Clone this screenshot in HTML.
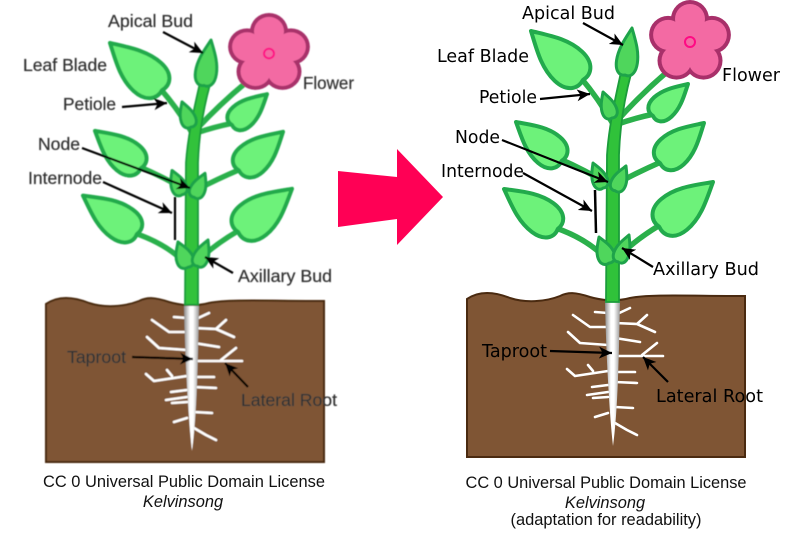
<!DOCTYPE html>
<html>
<head>
<meta charset="utf-8">
<style>
html,body{margin:0;padding:0;background:#fff;}
svg{display:block;}
</style>
</head>
<body>
<svg width="799" height="545" viewBox="0 0 799 545" xmlns="http://www.w3.org/2000/svg">
<defs>
  <marker id="ah" markerWidth="16" markerHeight="14" refX="13" refY="7" orient="auto" markerUnits="userSpaceOnUse">
    <path d="M0,1 L13,7 L0,13 L3.5,7 Z" fill="#000"/>
  </marker>
  <linearGradient id="rg" x1="0" y1="0" x2="1" y2="0">
    <stop offset="0" stop-color="#8c8c8c"/>
    <stop offset="0.4" stop-color="#ffffff"/>
    <stop offset="0.6" stop-color="#ffffff"/>
    <stop offset="1" stop-color="#9a9a9a"/>
  </linearGradient>
  <filter id="bl" x="-5%" y="-5%" width="110%" height="110%">
    <feGaussianBlur stdDeviation="0.6"/>
  </filter>
  <path id="leafShape" vector-effect="non-scaling-stroke" d="M0,0 C22,-22 45,-50 72,-50 C95,-50 104,-25 100,0 C104,25 95,50 72,50 C45,50 22,22 0,0 Z"/>

  <!-- soil -->
  <g id="soil">
    <path d="M467,299 C480,290 495,292 510,298 C525,303 545,302 560,296 C568,292 575,292 590,297 C600,300 615,302 630,298 C650,294 690,296 745,296 L745,457 L467,457 Z" fill="#7f5534" stroke="#4a2a10" stroke-width="2"/>
  </g>

  <!-- roots -->
  <g id="roots">
    <path d="M595,312 L608,313 M615,315 L630,308 M573,315 L590,327 L608,327 M615,323 L637,324 L655,332 M637,324 L647,315 M615,338 L640,342 M568,332 L580,343 L608,345 M615,356 L663,356 M642,355 L657,343 M567,369 L575,376 L608,371 M588,365 L593,371 M615,372 L635,372 M615,382 L637,383 M592,387 L608,385 M587,395 L608,392 M593,398 L608,397 M615,407 L633,408 M595,417 L608,413 M615,423 L627,430 L637,435" fill="none" stroke="#ffffff" stroke-width="2.6" stroke-linecap="round" stroke-linejoin="round"/>
    <path d="M605,301 L620,301 C619,350 618,410 613,446 C609,410 606,350 605,301 Z" fill="url(#rg)"/>
  </g>

  <!-- plant above ground -->
  <g id="plant">
    <!-- petioles -->
    <g fill="none" stroke="#2bb04b" stroke-width="5.5" stroke-linecap="round">
      <path d="M581,78 Q598,98 613,124"/>
      <path d="M667,72 Q640,95 616,122"/>
      <path d="M654,114 Q635,118 618,124"/>
      <path d="M560,159 Q585,170 608,184"/>
      <path d="M661,162 Q638,172 616,184"/>
      <path d="M556,228 Q590,240 609,262"/>
      <path d="M660,225 Q635,240 617,258"/>
    </g>
    <!-- stem -->
    <path d="M621,72 C616,95 609,125 607,155 L606,302 L619,302 L619,155 C620,125 624,100 631,74 Z" fill="#30c23a" stroke="#1b9c3b" stroke-width="1.8"/>
    <!-- leaves -->
    <g fill="#6df27a" stroke="#22aa4c" stroke-width="4" stroke-linejoin="round">
      <use href="#leafShape" transform="translate(531,31) rotate(43.3) scale(0.714,0.40)"/>
      <use href="#leafShape" transform="translate(516,122) rotate(40.3) scale(0.60,0.34)"/>
      <use href="#leafShape" transform="translate(704,123) rotate(137.7) scale(0.595,0.34)"/>
      <use href="#leafShape" transform="translate(504,189) rotate(36.5) scale(0.67,0.36)"/>
      <use href="#leafShape" transform="translate(713,182) rotate(140.2) scale(0.70,0.40)"/>
      <use href="#leafShape" transform="translate(688,84) rotate(137.6) scale(0.474,0.26)"/>
    </g>
    <!-- buds -->
    <g fill="#4fd65c" stroke="#1ea34a" stroke-width="3" stroke-linejoin="round">
      <use href="#leafShape" transform="translate(632,28) rotate(98.5) scale(0.475,0.21)"/>
      <use href="#leafShape" transform="translate(603,92) rotate(70.9) scale(0.275,0.15)"/>
      <use href="#leafShape" transform="translate(593,163) rotate(68) scale(0.27,0.15)"/>
      <use href="#leafShape" transform="translate(626,166) rotate(113.7) scale(0.27,0.15)"/>
      <use href="#leafShape" transform="translate(599,237) rotate(69) scale(0.28,0.17)"/>
      <use href="#leafShape" transform="translate(629,235) rotate(112) scale(0.29,0.15)"/>
    </g>
    <!-- flower -->
    <g fill="#a8306a">
      <circle cx="690" cy="19" r="19"/>
      <circle cx="711.9" cy="34.9" r="19"/>
      <circle cx="703.5" cy="60.6" r="19"/>
      <circle cx="676.5" cy="60.6" r="19"/>
      <circle cx="668.1" cy="34.9" r="19"/>
    </g>
    <g fill="#f36aa3">
      <circle cx="690" cy="19" r="15"/>
      <circle cx="711.9" cy="34.9" r="15"/>
      <circle cx="703.5" cy="60.6" r="15"/>
      <circle cx="676.5" cy="60.6" r="15"/>
      <circle cx="668.1" cy="34.9" r="15"/>
      <circle cx="690" cy="42" r="19"/>
    </g>
    <circle cx="690" cy="42" r="5" fill="none" stroke="#ff0a84" stroke-width="2"/>
  </g>
</defs>

<!-- ===== LEFT (original, blurry) ===== -->
<g filter="url(#bl)">
  <use href="#soil" transform="translate(-421,5)"/>
  <use href="#roots" transform="translate(-421,5)"/>
  <use href="#plant" transform="translate(-421,13) scale(1,0.966)"/>
  <g stroke="#000" stroke-width="2.2" fill="none" marker-end="url(#ah)">
    <line x1="163" y1="32" x2="203" y2="53"/>
    <line x1="122" y1="107" x2="167" y2="103"/>
    <line x1="82" y1="148" x2="190" y2="188"/>
    <line x1="103" y1="182" x2="172" y2="213"/>
    <line x1="233" y1="273" x2="205" y2="257"/>
    <line x1="132" y1="357" x2="193" y2="359"/>
    <line x1="248" y1="387" x2="225" y2="363"/>
  </g>
  <line x1="175" y1="197" x2="175" y2="240" stroke="#000" stroke-width="2.2"/>
  <g font-family="'Liberation Sans', Arial, sans-serif" font-size="17.5" fill="#2a2a2a" stroke="#555" stroke-width="0.3">
    <text x="108" y="27" textLength="85" lengthAdjust="spacingAndGlyphs">Apical Bud</text>
    <text x="23" y="71" textLength="84" lengthAdjust="spacingAndGlyphs">Leaf Blade</text>
    <text x="303" y="89" textLength="51" lengthAdjust="spacingAndGlyphs">Flower</text>
    <text x="63" y="110" textLength="53" lengthAdjust="spacingAndGlyphs">Petiole</text>
    <text x="38" y="150" textLength="42" lengthAdjust="spacingAndGlyphs">Node</text>
    <text x="28" y="184" textLength="74" lengthAdjust="spacingAndGlyphs">Internode</text>
    <text x="238" y="282" textLength="94" lengthAdjust="spacingAndGlyphs">Axillary Bud</text>
    <text x="67" y="363" textLength="59" lengthAdjust="spacingAndGlyphs">Taproot</text>
    <text x="241" y="406" textLength="96" lengthAdjust="spacingAndGlyphs">Lateral Root</text>
  </g>
</g>

<!-- ===== MIDDLE ARROW ===== -->
<polygon points="338,171 397,177 397,149 443,197 397,245 397,219 338,227" fill="#ff0055"/>

<!-- ===== RIGHT (adaptation) ===== -->
<use href="#soil"/>
<use href="#roots"/>
<use href="#plant"/>
<g stroke="#000" stroke-width="2.2" fill="none" marker-end="url(#ah)">
  <line x1="583" y1="23" x2="623" y2="45"/>
  <line x1="540" y1="99" x2="590" y2="94"/>
  <line x1="502" y1="140" x2="608" y2="182"/>
  <line x1="523" y1="173" x2="592" y2="211"/>
  <line x1="653" y1="267" x2="622" y2="248"/>
  <line x1="550" y1="351" x2="612" y2="353"/>
  <line x1="668" y1="382" x2="643" y2="357"/>
</g>
<line x1="595" y1="190" x2="596" y2="233" stroke="#000" stroke-width="2.5"/>
<g font-family="'DejaVu Sans', Verdana, sans-serif" font-size="17.5" fill="#000">
  <text x="522" y="19" textLength="93" lengthAdjust="spacingAndGlyphs">Apical Bud</text>
  <text x="437" y="62" textLength="92" lengthAdjust="spacingAndGlyphs">Leaf Blade</text>
  <text x="722" y="81" textLength="58" lengthAdjust="spacingAndGlyphs">Flower</text>
  <text x="479" y="103" textLength="58" lengthAdjust="spacingAndGlyphs">Petiole</text>
  <text x="455" y="143" textLength="45" lengthAdjust="spacingAndGlyphs">Node</text>
  <text x="441" y="177" textLength="83" lengthAdjust="spacingAndGlyphs">Internode</text>
  <text x="653" y="275" textLength="106" lengthAdjust="spacingAndGlyphs">Axillary Bud</text>
  <text x="482" y="357" textLength="65" lengthAdjust="spacingAndGlyphs">Taproot</text>
  <text x="656" y="402" textLength="107" lengthAdjust="spacingAndGlyphs">Lateral Root</text>
</g>

<!-- ===== CAPTIONS ===== -->
<g font-family="'Liberation Sans', Arial, sans-serif" font-size="16.4" fill="#111" text-anchor="middle">
  <text x="184" y="487" textLength="282" lengthAdjust="spacingAndGlyphs">CC 0 Universal Public Domain License</text>
  <text x="183" y="507" font-style="italic">Kelvinsong</text>
  <text x="606" y="488" textLength="281" lengthAdjust="spacingAndGlyphs">CC 0 Universal Public Domain License</text>
  <text x="605" y="508" font-style="italic">Kelvinsong</text>
  <text x="606" y="525" textLength="191" lengthAdjust="spacingAndGlyphs">(adaptation for readability)</text>
</g>
</svg>
</body>
</html>
